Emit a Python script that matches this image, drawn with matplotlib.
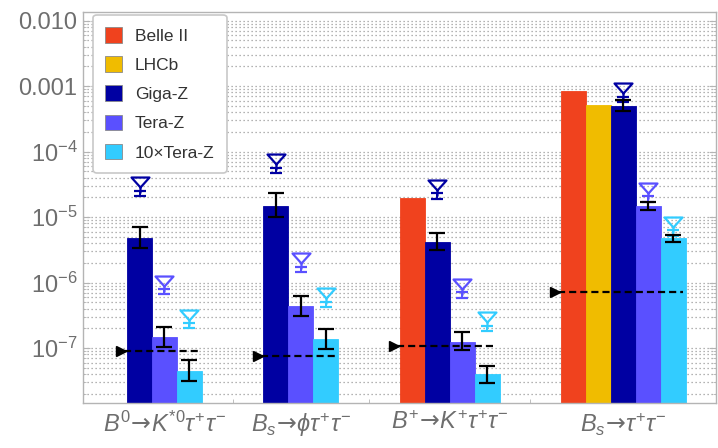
import matplotlib
matplotlib.use("Agg")
import matplotlib.pyplot as plt
import numpy as np
from matplotlib.path import Path
from matplotlib.patches import Patch
from matplotlib.ticker import FixedLocator, NullFormatter

plt.rcParams['font.family'] = ['Liberation Sans', 'DejaVu Sans']
plt.rcParams['mathtext.fontset'] = 'custom'
plt.rcParams['mathtext.rm'] = 'Liberation Sans'
plt.rcParams['mathtext.it'] = 'Liberation Sans:italic'
plt.rcParams['mathtext.bf'] = 'Liberation Sans:bold'
plt.rcParams['mathtext.sf'] = 'DejaVu Sans'

nan = np.nan

# decay channels
arrow = r"\!\mathsf{\rightarrow}\!"
channels = [r"$B^0" + arrow + r"K^{*0}\tau^{+}\tau^{-}$",
            r"$B_s" + arrow + r"\phi\tau^{+}\tau^{-}$",
            r"$B^{+}" + arrow + r"K^{+}\tau^{+}\tau^{-}$",
            r"$B_s" + arrow + r"\tau^{+}\tau^{-}$"]

series = ["Belle II", "LHCb", "Giga-Z", "Tera-Z", "10×Tera-Z"]
colors = ["#F0421E", "#F0BC00", "#0000A2", "#5A50FF", "#32CCFF"]

# bar heights (NaN = no entry for that experiment)
belle = [nan, nan, 1.95e-5, 8.4e-4]
lhcb = [nan, nan, nan, 5.1e-4]
giga = [4.8e-6, 1.48e-5, 4.2e-6, 4.95e-4]
tera = [1.48e-7, 4.4e-7, 1.23e-7, 1.48e-5]
tera10 = [4.5e-8, 1.37e-7, 4.0e-8, 4.8e-6]

# error bands on the Z-pole bars
giga_lo = [3.4e-6, 1.0e-5, 3.2e-6, 4.1e-4]
giga_hi = [7.1e-6, 2.3e-5, 5.7e-6, 6.2e-4]
tera_lo = [1.03e-7, 3.1e-7, 9.3e-8, 1.3e-5]
tera_hi = [2.1e-7, 6.2e-7, 1.75e-7, 1.7e-5]
tera10_lo = [3.2e-8, 9.6e-8, 2.9e-8, 4.1e-6]
tera10_hi = [6.6e-8, 1.95e-7, 5.4e-8, 5.3e-6]

# open-triangle points with their own small uncertainty
giga_pt = [2.3e-5, 5.2e-5, 2.1e-5, 6.3e-4]
tera_pt = [7.2e-7, 1.6e-6, 6.5e-7, 1.9e-5]
tera10_pt = [2.2e-7, 4.7e-7, 2.0e-7, 5.7e-6]
pt_relerr = [0.09, 0.09, 0.10, 0.10]

# Standard Model predictions (dashed lines)
sm = [9.0e-8, 7.6e-8, 1.07e-7, 7.2e-7]

bars = [belle, lhcb, giga, tera, tera10]
bar_lo = [None, None, giga_lo, tera_lo, tera10_lo]
bar_hi = [None, None, giga_hi, tera_hi, tera10_hi]
points = [None, None, giga_pt, tera_pt, tera10_pt]

fig = plt.figure(figsize=(7.18, 4.48), dpi=100)
ax = fig.add_axes([0.1156, 0.1004, 0.8814, 0.8726])

gap = 2.48
width = 1.0
tick_gray = "#6e6e6e"
frame_gray = "#b4b4b4"

# triangle sitting on a short stem
tri_path = Path([(-9, 16), (9, 16), (0, 6), (-9, 16), (0, 6), (0, 0)],
                [Path.MOVETO, Path.LINETO, Path.LINETO, Path.CLOSEPOLY,
                 Path.MOVETO, Path.LINETO])

start = 0.0
centers, bar_ticks, seps = [], [], []
for g in range(len(channels)):
    present = [s for s in range(len(series)) if not np.isnan(bars[s][g])]
    n = len(present)
    for i, s in enumerate(present):
        x = start + i * width + width / 2
        bar_ticks.append(x)
        v = bars[s][g]
        ax.bar(x, v, width=width, color=colors[s], edgecolor=colors[s],
               linewidth=0.6, zorder=2)
        if bar_lo[s] is not None:
            ax.errorbar(x, v, yerr=[[v - bar_lo[s][g]], [bar_hi[s][g] - v]],
                        fmt='none', ecolor='black', elinewidth=1.6,
                        capsize=5.5, capthick=1.6, zorder=5)
        if points[s] is not None:
            p = points[s][g]
            e = pt_relerr[g]
            ax.errorbar(x, p, yerr=[[p - p / (1 + e)], [p * e]], fmt='none',
                        ecolor=colors[s], elinewidth=1.4, capsize=4.5,
                        capthick=1.6, zorder=4)
            ax.plot(x, p, marker=tri_path, ms=23, mfc='none', mec=colors[s],
                    mew=1.6, zorder=4)
    end = start + n * width
    centers.append((start + end) / 2)
    # SM reference line
    ax.plot([start - 0.12, end - 0.1], [sm[g], sm[g]], color='black',
            ls=(0, (3.2, 1.8)), lw=1.6, zorder=6)
    ax.plot(start - 0.24, sm[g], marker='>', color='black', ms=7, zorder=6)
    if g < len(channels) - 1:
        seps.append(end + gap / 2)
    start = end + gap

ax.set_yscale('log')
ax.set_ylim(1.45e-8, 1.35e-2)
ax.set_xlim(-1.77, 23.65)

major = [1e-7, 1e-6, 1e-5, 1e-4, 1e-3, 1e-2]
ax.set_yticks(major, [r"$10^{-7}$", r"$10^{-6}$", r"$10^{-5}$",
                      r"$10^{-4}$", "0.001", "0.010"])
minor = [m * 10.0 ** k for k in range(-8, -1) for m in range(2, 10)]
ax.yaxis.set_minor_locator(FixedLocator(minor))
ax.yaxis.set_minor_formatter(NullFormatter())

ax.set_xticks(centers, channels)
ax.xaxis.set_minor_locator(FixedLocator(bar_ticks + seps))

ax.tick_params(axis='y', which='major', direction='in', length=5,
               color=frame_gray, labelsize=17, labelcolor=tick_gray, right=True,
               pad=4)
ax.tick_params(axis='y', which='minor', direction='in', length=2.5,
               color=frame_gray, right=True)
ax.tick_params(axis='x', which='major', length=0, labelsize=17,
               labelcolor=tick_gray, pad=6)
ax.tick_params(axis='x', which='minor', direction='in', length=3,
               color=frame_gray)

for sp in ax.spines.values():
    sp.set_color(frame_gray)
    sp.set_linewidth(1.0)

ax.yaxis.grid(True, which='both', color='#9a9a9a', ls=(0, (1, 2.2)), lw=0.9)
ax.set_axisbelow(True)

handles = [Patch(facecolor=c, edgecolor='#8a8a8a', linewidth=0.6) for c in colors]
leg = ax.legend(handles, series, loc='upper left', bbox_to_anchor=(0.016, 0.993),
                borderaxespad=0, fontsize=12.5, handlelength=0.95, handleheight=1.0,
                handletextpad=0.75, labelspacing=0.72, borderpad=0.7,
                framealpha=1, edgecolor='#c8c8c8', fancybox=True)
leg.get_frame().set_linewidth(1.2)
for t in leg.get_texts():
    t.set_color('#333333')
leg.set_zorder(10)

fig.savefig("out.png", dpi=100)
